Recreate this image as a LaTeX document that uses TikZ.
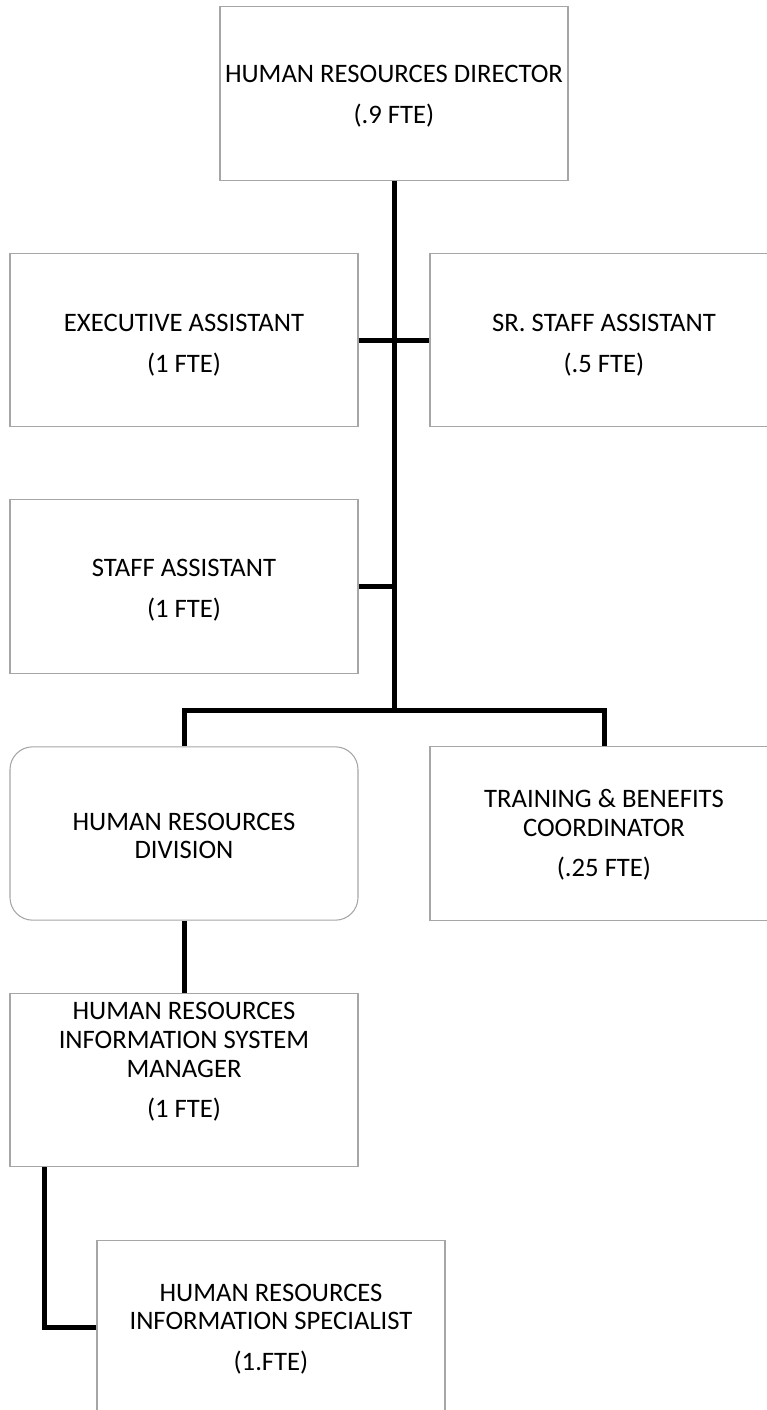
\documentclass[tikz,border=0pt]{standalone}
\usepackage{fontspec}
\setmainfont{Carlito}
\usetikzlibrary{calc}

\begin{document}
\begin{tikzpicture}[x=0.75pt,y=-0.75pt,
  post/.style={draw=black!35,line width=0.8pt,minimum width=261pt,minimum height=130pt,inner sep=0pt},
  division/.style={post,rounded corners=17pt},
  title/.style={align=center,inner sep=0pt,font=\fontsize{20}{21.5}\selectfont},
  link/.style={line width=3.75pt}]
\useasboundingbox (0,0) rectangle (767,1410);
\clip (0,0) rectangle (767,1410);
% the boxes
\node[post] (dir) at (394,93.5) {};
\node[post] (exec) at (184,340) {};
\node[post] (sr) at (604,340) {};
\node[post] (staff) at (184,586.5) {};
\node[division] (div) at (184,833.5) {};
\node[post] (tb) at (604,833.5) {};
\node[post] (hris) at (184,1080) {};
\node[post] (spec) at (271,1327.5) {};
% the texts
\node[title] (dirtxt) at (394,96) {HUMAN RESOURCES DIRECTOR\\[9pt](.9 FTE)};
\node[title] (exectxt) at (184,345) {EXECUTIVE ASSISTANT\\[9pt](1 FTE)};
\node[title] (srtxt) at (604,345) {SR. STAFF ASSISTANT\\[9pt](.5 FTE)};
\node[title] (stafftxt) at (184,590) {STAFF ASSISTANT\\[9pt](1 FTE)};
\node[title] (divtxt) at (184,836) {HUMAN RESOURCES\\DIVISION};
\node[title] (tbtxt) at (604,835) {TRAINING \& BENEFITS\\COORDINATOR\\[9pt](.25 FTE)};
\node[title] (hristxt) at (184,1062) {HUMAN RESOURCES\\INFORMATION SYSTEM\\MANAGER\\[9pt](1 FTE)};
\node[title] (spectxt) at (271,1329) {HUMAN RESOURCES\\INFORMATION SPECIALIST\\[9pt](1.FTE)};
% the lines
\coordinate (fork) at (394,710);
\coordinate (leg) at (44,1167);
\draw[link] (dir.south) -- (fork);
\draw[link] (exec.east) -- (sr.west);
\draw[link] (staff.east) -- (staff.east -| fork);
\draw[link] (div.north) |- (fork) -| (tb.north);
\draw[link] (div.south) -- (hris.north);
\draw[link] (leg) |- (spec.west);
\end{tikzpicture}
\end{document}
